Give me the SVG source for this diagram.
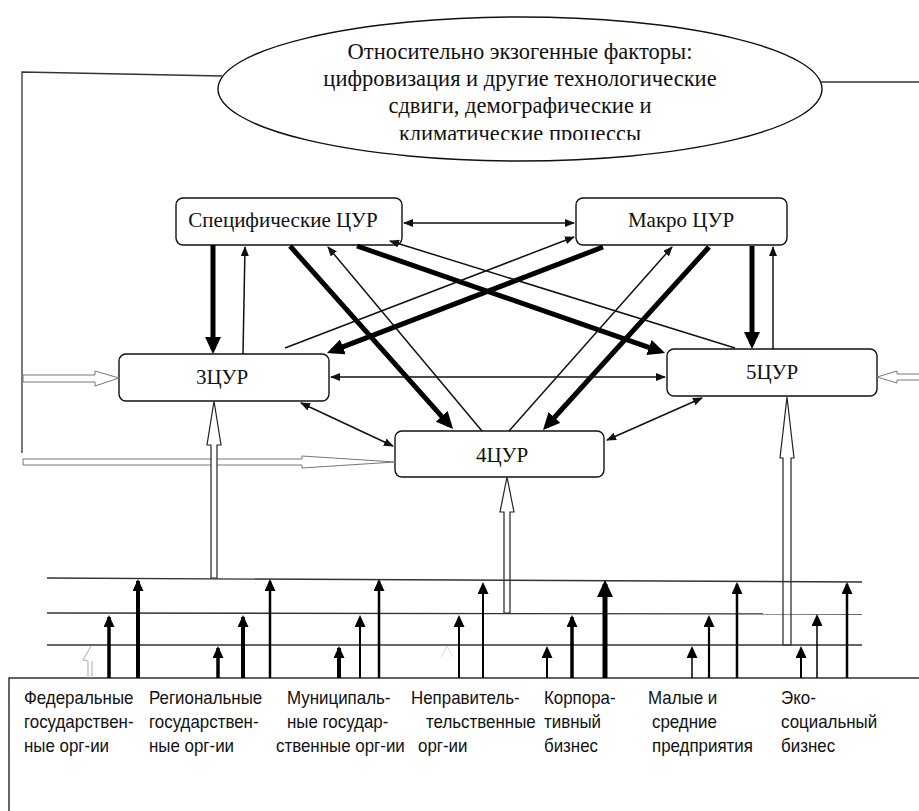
<svg xmlns="http://www.w3.org/2000/svg" width="919" height="811" viewBox="0 0 919 811">
<style>
.box{fill:#fff;stroke:#111;stroke-width:1.4}
.lbl{font-family:"Liberation Serif","Times New Roman",serif;font-size:21px;fill:#111;text-anchor:middle}
.ell{font-family:"Liberation Serif","Times New Roman",serif;font-size:22.5px;fill:#111;text-anchor:middle}
.org{font-family:"Liberation Sans",Arial,sans-serif;font-size:18px;fill:#111}
.thin{stroke:#111;stroke-width:1.5;fill:none}
.thick{stroke:#000;stroke-width:5;fill:none}
.hol{fill:#fff;stroke:#777;stroke-width:1}
.holv{fill:#fff;stroke:#222;stroke-width:1.2}
.hl{stroke:#333;stroke-width:1.3;fill:none}
.ba{stroke:#000;fill:none}
</style>
<defs>
<marker id="mt" viewBox="0 0 10 8" markerWidth="10" markerHeight="8" refX="9" refY="4" orient="auto-start-reverse" markerUnits="userSpaceOnUse"><path d="M0,0 L10,4 L0,8 z" fill="#111"/></marker>
<marker id="mk" viewBox="0 0 17 16" markerWidth="17" markerHeight="16" refX="12" refY="8" orient="auto" markerUnits="userSpaceOnUse"><path d="M0,0 L17,8 L0,16 z" fill="#000"/></marker>
<marker id="mb" viewBox="0 0 12 11" markerWidth="12" markerHeight="11" refX="10" refY="5.5" orient="auto" markerUnits="userSpaceOnUse"><path d="M0,0 L12,5.5 L0,11 z" fill="#000"/></marker>
<marker id="mB" viewBox="0 0 17 16" markerWidth="17" markerHeight="16" refX="13" refY="8" orient="auto" markerUnits="userSpaceOnUse"><path d="M0,0 L17,8 L0,16 z" fill="#000"/></marker>
<clipPath id="ec"><rect x="0" y="0" width="919" height="140"/></clipPath>
</defs>

<g id="factors">
<ellipse cx="520" cy="89" rx="302" ry="72" fill="#fff" stroke="#111" stroke-width="1.4"/>
<g clip-path="url(#ec)">
<text class="ell" x="520" y="59">Относительно экзогенные факторы:</text>
<text class="ell" x="520" y="86">цифровизация и другие технологические</text>
<text class="ell" x="520" y="113">сдвиги, демографические и</text>
<text class="ell" x="520" y="141">климатические процессы</text>
</g>
</g>

<g id="spec"><rect class="box" x="176" y="198" width="226" height="47" rx="7"/><text class="lbl" x="283" y="227">Специфические ЦУР</text></g>
<g id="macro"><rect class="box" x="576" y="198" width="211" height="47" rx="7"/><text class="lbl" x="681" y="227">Макро ЦУР</text></g>
<g id="z3"><rect class="box" x="119" y="354" width="210" height="47" rx="7"/><text class="lbl" x="222" y="384">3ЦУР</text></g>
<g id="z5"><rect class="box" x="667" y="349" width="210" height="47" rx="7"/><text class="lbl" x="772" y="379">5ЦУР</text></g>
<g id="z4"><rect class="box" x="395" y="431" width="209" height="46" rx="7"/><text class="lbl" x="502" y="462">4ЦУР</text></g>

<g id="orgs">
<rect x="9" y="678" width="930" height="150" fill="#fff" stroke="#222" stroke-width="1.4"/>
<g transform="scale(0.94,1)">
<text class="org" x="25.5" y="704">Федеральные</text>
<text class="org" x="25.5" y="728">государствен-</text>
<text class="org" x="25.5" y="752">ные орг-ии</text>
<text class="org" x="158.5" y="704">Региональные</text>
<text class="org" x="158.5" y="728">государствен-</text>
<text class="org" x="158.5" y="752">ные орг-ии</text>
<text class="org" x="305.3" y="704">Муниципаль-</text>
<text class="org" x="305.3" y="728">ные государ-</text>
<text class="org" x="293.6" y="752">ственные орг-ии</text>
<text class="org" x="437.2" y="704">Неправитель-</text>
<text class="org" x="453.2" y="728">тельственные</text>
<text class="org" x="444.7" y="752">орг-ии</text>
<text class="org" x="578.7" y="704">Корпора-</text>
<text class="org" x="578.7" y="728">тивный</text>
<text class="org" x="578.7" y="752">бизнес</text>
<text class="org" x="689.4" y="704">Малые и</text>
<text class="org" x="693.6" y="728">средние</text>
<text class="org" x="693.6" y="752">предприятия</text>
<text class="org" x="830.9" y="704">Эко-</text>
<text class="org" x="830.9" y="728">социальный</text>
<text class="org" x="830.9" y="752">бизнес</text>
</g>
</g>

<g id="connectors">
<polyline class="hl" points="222,76 22,72 22,453"/>
<line class="hl" x1="821" y1="82" x2="919" y2="82"/>
<polygon class="hol" points="23,375 95,375 95,371 119,378 95,386 95,382 23,382"/>
<polygon class="hol" points="23,459 302,459 302,456 395,462 302,468 302,465 23,465"/>
<polygon class="hol" points="925,374 897,374 897,371 877,377 897,383 897,380 925,380"/>
<polygon class="holv" points="211,578 211,445 207,445 214,401 221,445 217,445 217,578"/>
<polygon class="holv" points="504,613 504,512 500,512 507,477 514,512 510,512 510,613"/>
<polygon class="holv" points="783,645 783,458 780,458 787,397 794,458 791,458 791,645"/>
<line class="thick" x1="213" y1="245" x2="213" y2="349" marker-end="url(#mk)"/>
<line class="thick" x1="752" y1="246" x2="752" y2="344" marker-end="url(#mk)"/>
<line class="thick" x1="290" y1="246" x2="449.7" y2="425.3" marker-end="url(#mk)"/>
<line class="thick" x1="357" y1="246" x2="660.3" y2="351.4" marker-end="url(#mk)"/>
<line class="thick" x1="603" y1="247" x2="331.7" y2="351.2" marker-end="url(#mk)"/>
<line class="thick" x1="709" y1="247" x2="546.4" y2="426.3" marker-end="url(#mk)"/>
<line class="thin" x1="404" y1="223" x2="574" y2="223" marker-start="url(#mt)" marker-end="url(#mt)"/>
<line class="thin" x1="331" y1="377" x2="665" y2="377" marker-start="url(#mt)" marker-end="url(#mt)"/>
<line class="thin" x1="301" y1="403" x2="393" y2="446" marker-start="url(#mt)" marker-end="url(#mt)"/>
<line class="thin" x1="702" y1="398" x2="607" y2="440" marker-start="url(#mt)" marker-end="url(#mt)"/>
<line class="thin" x1="243" y1="354" x2="245" y2="247" marker-end="url(#mt)"/>
<line class="thin" x1="773" y1="349" x2="773" y2="247" marker-end="url(#mt)"/>
<line class="thin" x1="285" y1="348" x2="574" y2="237" marker-end="url(#mt)"/>
<line class="thin" x1="735" y1="348" x2="390" y2="241" marker-end="url(#mt)"/>
<line class="thin" x1="482" y1="431" x2="328" y2="247" marker-end="url(#mt)"/>
<line class="thin" x1="509" y1="431" x2="672" y2="247" marker-end="url(#mt)"/>
<line class="hl" x1="47" y1="578" x2="862" y2="582"/>
<line class="hl" x1="47" y1="613" x2="862" y2="614"/>
<line class="hl" x1="47" y1="645" x2="862" y2="645"/>
<path d="M91,646 L83,660 L88,661 L88,678 M92,661 L92,678" stroke="#aaa" stroke-width="1" fill="none"/>
<path d="M441,657 L447,646 L453,657" stroke="#ddd" stroke-width="1" fill="none"/>
<line class="ba" stroke-width="3.5" x1="109" y1="678" x2="109" y2="617" marker-end="url(#mb)"/>
<line class="ba" stroke-width="4" x1="138" y1="678" x2="138" y2="581" marker-end="url(#mb)"/>
<line class="ba" stroke-width="3.5" x1="218" y1="678" x2="218" y2="648" marker-end="url(#mb)"/>
<line class="ba" stroke-width="4" x1="243" y1="678" x2="243" y2="617" marker-end="url(#mb)"/>
<line class="ba" stroke-width="2.5" x1="270" y1="678" x2="270" y2="581" marker-end="url(#mb)"/>
<line class="ba" stroke-width="4" x1="339" y1="678" x2="339" y2="648" marker-end="url(#mb)"/>
<line class="ba" stroke-width="2" x1="360" y1="678" x2="360" y2="617" marker-end="url(#mb)"/>
<line class="ba" stroke-width="2.5" x1="379" y1="678" x2="379" y2="581" marker-end="url(#mb)"/>
<line class="ba" stroke-width="2" x1="459" y1="678" x2="459" y2="617" marker-end="url(#mb)"/>
<line class="ba" stroke-width="2" x1="483" y1="678" x2="483" y2="584" marker-end="url(#mb)"/>
<line class="ba" stroke-width="2" x1="547" y1="678" x2="547" y2="648" marker-end="url(#mb)"/>
<line class="ba" stroke-width="3.5" x1="572" y1="678" x2="572" y2="617" marker-end="url(#mb)"/>
<line class="ba" stroke-width="5" x1="605" y1="678" x2="605" y2="584" marker-end="url(#mB)"/>
<line class="ba" stroke-width="1.5" x1="692" y1="678" x2="692" y2="648" marker-end="url(#mb)"/>
<line class="ba" stroke-width="2.2" x1="709" y1="678" x2="709" y2="617" marker-end="url(#mb)"/>
<line class="ba" stroke-width="2.5" x1="737" y1="678" x2="737" y2="584" marker-end="url(#mb)"/>
<line class="ba" stroke-width="2" x1="801" y1="678" x2="801" y2="648" marker-end="url(#mb)"/>
<line class="ba" stroke-width="1.5" x1="817" y1="678" x2="817" y2="616" marker-end="url(#mb)"/>
<line class="ba" stroke-width="2.5" x1="847" y1="678" x2="847" y2="584" marker-end="url(#mb)"/>
</g>
</svg>
